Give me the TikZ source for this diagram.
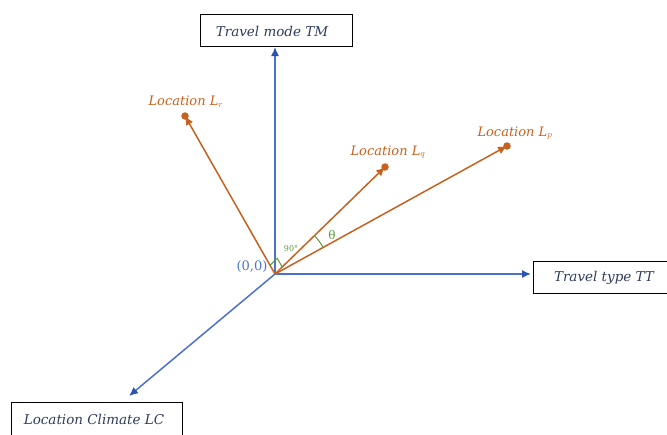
\documentclass[tikz,border=0pt]{standalone}
\usepackage{fontspec}
\setmainfont{DejaVu Serif}
\usetikzlibrary{arrows.meta,calc}
\begin{document}
\begin{tikzpicture}[x=1pt,y=-1pt,
  axis/.style={draw=axisblue,line width=1.5pt,-{Latex[length=9pt,width=8pt,color=tipblue]}},
  vec/.style={draw=vecorange,line width=1.5pt,-{Latex[length=9pt,width=8pt]}},
  axbox/.style={draw=black,line width=1pt,fill=white,inner sep=0pt},
  axlabel/.style={font=\fontsize{13.5}{15}\selectfont\itshape,text=labelblue},
  loclabel/.style={font=\fontsize{13}{14}\selectfont\itshape,text=vecorange},
  pin/.style={fill=vecorange,circle,inner sep=0pt,minimum size=7.5pt},
  anglemark/.style={draw=anglegreen,line width=1pt}]
\definecolor{axisblue}{HTML}{4A72C8}
\definecolor{tipblue}{HTML}{2A52B0}
\definecolor{vecorange}{HTML}{C8611E}
\definecolor{labelblue}{HTML}{2E3D5C}
\definecolor{anglegreen}{HTML}{5E9A3C}
\useasboundingbox (0,0) rectangle (667,434);
\clip (0,0) rectangle (667,434);

% axis boxes
\node[axbox,minimum width=152pt,minimum height=32pt] (tm) at (276,30) {};
\node[axlabel] at (272,31) {Travel mode TM};
\node[axbox,minimum width=134pt,minimum height=32pt,anchor=west] (tt) at (533,277) {};
\node[axlabel] at (604,278) {Travel type TT};
\node[axbox,minimum width=171pt,minimum height=40pt,anchor=north west] (lc) at (11,402) {};
\node[axlabel] at (94,419) {Location Climate LC};

% origin and axes
\coordinate (o) at (275,274);
\coordinate (ytip) at (275,47);
\coordinate (xtip) at (531,274);
\coordinate (ztip) at (129,396);
\draw[axis] (o) -- (ytip);
\draw[axis] (o) -- (xtip);
\draw[axis] (o) -- (ztip);
\node[text=axisblue,font=\fontsize{13}{15}\selectfont] (olabel) at (252,267) {(0,0)};

% location vectors
\node[pin] (pr) at (185,116) {};
\node[pin] (pq) at (385,167) {};
\node[pin] (pp) at (507,146) {};
\draw[vec] (o) -- (pr.center);
\draw[vec] (o) -- (pq.center);
\draw[vec] (o) -- (pp.center);
\node[loclabel] (lr) at (186,102) {Location L$_r$};
\node[loclabel] (lq) at (388,152) {Location L$_q$};
\node[loclabel] (lp) at (515,133) {Location L$_p$};

% angle marks
\draw[anglemark] ($(o)+(-5,-8.7)$) -- ($(o)+(2.2,-15.7)$) -- ($(o)+(7.2,-7)$);
\draw[anglemark] (o) ++(-29:55) arc[start angle=-29,end angle=-44.2,radius=55];
\node[text=anglegreen,font=\fontsize{8}{9}\selectfont] (ninety) at (291,249) {90°};
\node[text=anglegreen,font=\fontsize{12}{14}\selectfont] (theta) at (332,235) {θ};
\end{tikzpicture}
\end{document}
